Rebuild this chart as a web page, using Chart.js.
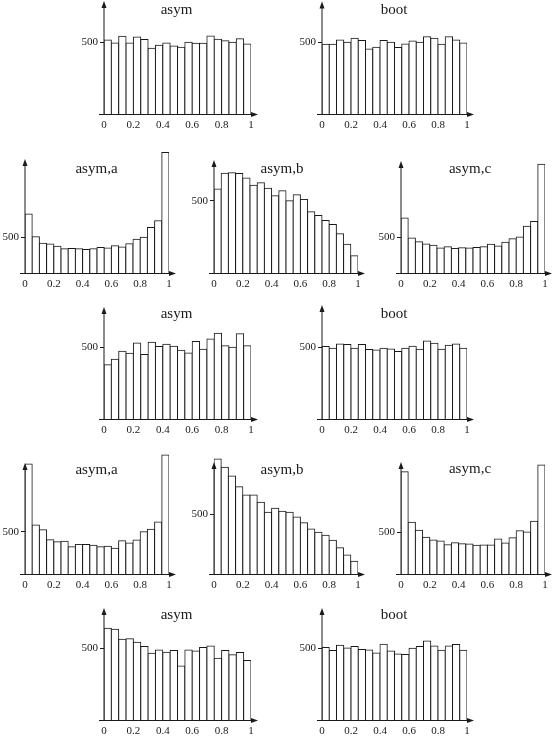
<!DOCTYPE html>
<html>
<head>
<meta charset="utf-8">
<title>asym / boot histograms</title>
<script src="https://cdn.jsdelivr.net/npm/chart.js@4.4.1/dist/chart.umd.min.js"></script>
<style>
  html, body { margin: 0; padding: 0; background: #fff; }
  #figure { position: relative; width: 553px; height: 737px; overflow: hidden; }
  #figure canvas { position: absolute; }
</style>
</head>
<body>
<div id="figure"></div>
<script>
// 20 bins on [0, 1], given by their centres
const binCenters = [0.025, 0.075, 0.125, 0.175, 0.225, 0.275, 0.325, 0.375, 0.425, 0.475,
                    0.525, 0.575, 0.625, 0.675, 0.725, 0.775, 0.825, 0.875, 0.925, 0.975];
const xTicks = [0, 0.2, 0.4, 0.6, 0.8, 1];
const yTicks = [500];

// counts per bin
const row1Asym  = [516, 495, 542, 495, 537, 519, 458, 479, 495, 475, 465, 500, 493, 493, 544, 521, 510, 500, 525, 488];
const row1Boot  = [486, 486, 516, 500, 528, 512, 454, 465, 512, 500, 463, 488, 509, 500, 539, 528, 486, 539, 516, 495];

const row2AsymA = [825, 509, 415, 406, 373, 340, 344, 340, 330, 340, 358, 349, 382, 363, 410, 472, 500, 637, 731, 1689];
const row2AsymB = [581, 690, 694, 688, 657, 606, 625, 586, 535, 569, 500, 542, 509, 424, 398, 363, 336, 271, 199, 120];
const row2AsymC = [769, 491, 439, 406, 387, 349, 368, 344, 354, 349, 358, 368, 401, 377, 429, 481, 505, 656, 722, 1524];

const row3Asym  = [379, 416, 472, 458, 530, 449, 535, 505, 521, 507, 479, 460, 540, 486, 558, 598, 510, 500, 595, 510];
const row3Boot  = [505, 493, 523, 519, 493, 519, 484, 481, 493, 488, 470, 493, 507, 486, 544, 528, 486, 514, 523, 493];

const row4AsymA = [1299, 579, 524, 406, 382, 386, 323, 350, 350, 339, 323, 327, 303, 394, 366, 402, 500, 528, 614, 1406];
const row4AsymB = [958, 889, 817, 728, 658, 658, 597, 514, 547, 522, 514, 475, 428, 375, 347, 322, 281, 219, 158, 106];
const row4AsymC = [1218, 615, 520, 437, 405, 393, 349, 373, 361, 357, 341, 345, 345, 417, 369, 433, 516, 500, 627, 1298];

const row5Asym  = [640, 633, 563, 567, 542, 512, 465, 488, 472, 484, 377, 488, 481, 505, 516, 430, 484, 455, 470, 415];
const row5Boot  = [505, 484, 521, 502, 512, 491, 488, 467, 528, 481, 460, 456, 500, 512, 551, 516, 486, 516, 526, 486];

// where each histogram sits on the page (pixels)
const panels = [
  { title: 'asym',   values: row1Asym,  x0: 104, x1: 251, top: 0,   base: 114, y500: 42.3,  arrowTop: 1,   titleX: 176.5, titleY: 10 },
  { title: 'boot',   values: row1Boot,  x0: 322, x1: 467, top: 0,   base: 114, y500: 42.3,  arrowTop: 1.5, titleX: 394,   titleY: 10 },

  { title: 'asym,a', values: row2AsymA, x0: 25,  x1: 169, top: 148, base: 273, y500: 237.3, arrowTop: 159, titleX: 96.5,  titleY: 169 },
  { title: 'asym,b', values: row2AsymB, x0: 214, x1: 358, top: 148, base: 273, y500: 200.7, arrowTop: 160, titleX: 282,   titleY: 169 },
  { title: 'asym,c', values: row2AsymC, x0: 401, x1: 545, top: 148, base: 273, y500: 237.3, arrowTop: 161, titleX: 470,   titleY: 169 },

  { title: 'asym',   values: row3Asym,  x0: 104, x1: 251, top: 300, base: 419, y500: 347.3, arrowTop: 307, titleX: 176.5, titleY: 314 },
  { title: 'boot',   values: row3Boot,  x0: 322, x1: 467, top: 300, base: 419, y500: 347.3, arrowTop: 305, titleX: 394,   titleY: 314 },

  { title: 'asym,a', values: row4AsymA, x0: 25,  x1: 169, top: 450, base: 574, y500: 531.7, arrowTop: 463, titleX: 96.5,  titleY: 470 },
  { title: 'asym,b', values: row4AsymB, x0: 214, x1: 358, top: 450, base: 574, y500: 514,   arrowTop: 462, titleX: 282,   titleY: 470 },
  { title: 'asym,c', values: row4AsymC, x0: 401, x1: 545, top: 450, base: 574, y500: 532,   arrowTop: 462, titleX: 470,   titleY: 469 },

  { title: 'asym',   values: row5Asym,  x0: 104, x1: 251, top: 602, base: 720, y500: 648.3, arrowTop: 608, titleX: 176.5, titleY: 615 },
  { title: 'boot',   values: row5Boot,  x0: 322, x1: 467, top: 602, base: 720, y500: 648.3, arrowTop: 608, titleX: 394,   titleY: 615 }
];

const INK = '#1a1a1a';
const SERIF = '"Liberation Serif", "Times New Roman", serif';

// axis lines with arrow heads, plus the panel title
const framePlugin = {
  id: 'frame',
  afterDraw(chart, args, opts) {
    const { ctx, scales: { x, y } } = chart;
    const left = x.getPixelForValue(0);
    const right = x.getPixelForValue(1);
    const base = y.getPixelForValue(0) + 0.5;
    const tip = opts.arrowTop;

    ctx.save();
    ctx.strokeStyle = INK;
    ctx.fillStyle = INK;
    ctx.lineWidth = 1;

    ctx.beginPath();
    ctx.moveTo(left - 5, base);
    ctx.lineTo(right + 2, base);
    ctx.moveTo(left, base);
    ctx.lineTo(left, tip + 4);
    ctx.stroke();

    // arrow heads
    ctx.beginPath();
    ctx.moveTo(left, tip);
    ctx.lineTo(left - 2.5, tip + 7);
    ctx.lineTo(left + 2.5, tip + 7);
    ctx.closePath();
    ctx.fill();

    ctx.beginPath();
    ctx.moveTo(right + 7, base);
    ctx.lineTo(right, base - 2.5);
    ctx.lineTo(right, base + 2.5);
    ctx.closePath();
    ctx.fill();

    ctx.font = '15px ' + SERIF;
    ctx.textAlign = 'center';
    ctx.textBaseline = 'middle';
    ctx.fillText(opts.title, opts.titleX, opts.titleY);
    ctx.restore();
  }
};

function drawPanel(p) {
  const yAxisWidth = 30;
  const xAxisHeight = 22;
  const rightPad = 14;
  const left = p.x0 - yAxisWidth;
  const width = (p.x1 - p.x0) + yAxisWidth + rightPad;
  const height = (p.base - p.top) + xAxisHeight;

  const canvas = document.createElement('canvas');
  canvas.width = width;
  canvas.height = height;
  canvas.style.left = left + 'px';
  canvas.style.top = p.top + 'px';
  canvas.style.width = width + 'px';
  canvas.style.height = height + 'px';
  document.getElementById('figure').appendChild(canvas);

  // value at the top edge of the plot area so that 500 lands where it does in the figure
  const yMax = 500 * (p.base - p.top) / (p.base - p.y500);

  new Chart(canvas, {
    type: 'bar',
    data: {
      datasets: [{
        data: binCenters.map((c, i) => ({ x: c, y: p.values[i] })),
        backgroundColor: '#ffffff',
        borderColor: INK,
        borderWidth: 1,
        inflateAmount: 0.5,
        barPercentage: 1,
        categoryPercentage: 1
      }]
    },
    options: {
      responsive: false,
      devicePixelRatio: 1,
      animation: false,
      events: [],
      layout: { padding: { top: 0, right: rightPad, bottom: 0, left: 0 } },
      scales: {
        x: {
          type: 'linear',
          min: 0,
          max: 1,
          offset: false,
          grid: { display: false, drawTicks: false },
          border: { display: false },
          afterBuildTicks: s => { s.ticks = xTicks.map(v => ({ value: v })); },
          afterFit: s => { s.height = xAxisHeight; s.paddingLeft = 0; s.paddingRight = 0; },
          ticks: {
            autoSkip: false,
            maxRotation: 0,
            padding: 5,
            color: INK,
            font: { family: SERIF, size: 11 },
            callback: v => String(v)
          }
        },
        y: {
          min: 0,
          max: yMax,
          grid: { display: true, drawOnChartArea: false, drawTicks: true, tickLength: 4, color: INK },
          border: { display: false },
          afterBuildTicks: s => { s.ticks = yTicks.map(v => ({ value: v })); },
          afterFit: s => { s.width = yAxisWidth; s.paddingTop = 0; s.paddingBottom = 0; },
          ticks: {
            padding: 2,
            color: INK,
            font: { family: SERIF, size: 11 }
          }
        }
      },
      plugins: {
        legend: { display: false },
        tooltip: { enabled: false },
        frame: {
          title: p.title,
          titleX: p.titleX - left,
          titleY: p.titleY - p.top,
          arrowTop: p.arrowTop - p.top
        }
      }
    },
    plugins: [framePlugin]
  });
}

panels.forEach(drawPanel);
</script>
</body>
</html>
